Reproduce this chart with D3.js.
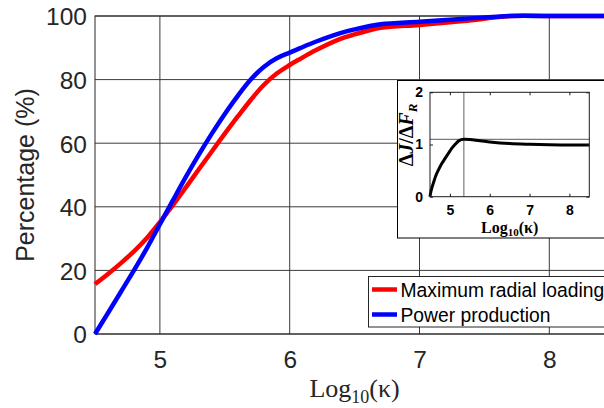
<!DOCTYPE html>
<html>
<head>
<meta charset="utf-8">
<script src="https://cdn.jsdelivr.net/npm/d3@7"></script>
<style>
  html, body { margin: 0; padding: 0; background: #fff; }
  svg { display: block; }
</style>
</head>
<body>
<svg id="chart" width="604" height="408"></svg>
<script>
// Log10(kappa) sample positions and the two percentage curves
const kappaRadial = [4.5, 4.6, 4.7, 4.8, 4.9, 5.0, 5.1, 5.2, 5.3, 5.4, 5.5, 5.6, 5.7, 5.8, 5.9, 6.0, 6.08, 6.2, 6.39, 6.5, 6.7, 7.0, 7.34, 7.7, 8.0, 8.5];
const radialLoading = [15.7, 18.9, 22.3, 26, 30.2, 35.2, 40.5, 46.1, 51.8, 57.4, 63, 68.4, 73.6, 78.3, 81.9, 84.6, 86.5, 89.2, 92.8, 94.2, 96.3, 97.2, 98.4, 100, 100, 100];

const kappaPower = [4.5, 4.6, 4.7, 4.8, 4.9, 5.0, 5.1, 5.2, 5.3, 5.4, 5.5, 5.6, 5.7, 5.8, 5.9, 6.0, 6.08, 6.2, 6.39, 6.5, 6.7, 7.0, 7.34, 7.7, 8.0, 8.5];
const powerProduction = [0, 6.6, 13.3, 20, 27, 34.5, 42, 49.4, 56.4, 63, 69.2, 74.9, 80, 84, 86.7, 88.5, 89.9, 91.9, 94.6, 95.8, 97.4, 98.2, 99.1, 100, 100, 100];

// Inset: ratio of changes against Log10(kappa)
const kappaRatio = [4.5, 4.52, 4.55, 4.584, 4.64, 4.71, 4.8, 4.88, 4.97, 5.05, 5.14, 5.22, 5.35, 5.5, 5.75, 6.0, 6.5, 7.0, 7.5, 8.0, 8.5];
const ratio = [0, 0.09, 0.18, 0.26, 0.39, 0.51, 0.64, 0.735, 0.84, 0.93, 1.01, 1.07, 1.1, 1.095, 1.07, 1.05, 1.02, 1.005, 0.995, 0.99, 0.99];
const ratioPeak = { k: 5.35, v: 1.1 };

const xTicks = [5, 6, 7, 8];
const yTicks = [0, 20, 40, 60, 80, 100];
const insetYTicks = [0, 1, 2];

const seriesNames = ["Maximum radial loading", "Power production"];
const seriesColors = ["#ff0000", "#0000ff"];

const svg = d3.select("#chart");
const axisColor = "#262626";
const sans = "'Liberation Sans', Arial, sans-serif";
const serif = "'Liberation Serif', 'Times New Roman', serif";

// ---------- main axes ----------
const x = d3.scaleLinear().domain([4.5, 8.5]).range([95, 614.2]);
const y = d3.scaleLinear().domain([0, 100]).range([334, 16]);

const grid = svg.append("g");
grid.selectAll("line.vg").data(xTicks).join("line")
  .attr("x1", d => x(d)).attr("x2", d => x(d))
  .attr("y1", y(0)).attr("y2", y(100))
  .attr("stroke", "#3a3a3a").attr("stroke-width", 1);
grid.selectAll("line.hg").data(yTicks).join("line")
  .attr("x1", x(4.5)).attr("x2", x(8.5))
  .attr("y1", d => y(d)).attr("y2", d => y(d))
  .attr("stroke", "#3a3a3a").attr("stroke-width", 1);

// box
svg.append("rect")
  .attr("x", x(4.5)).attr("y", y(100))
  .attr("width", x(8.5) - x(4.5)).attr("height", y(0) - y(100))
  .attr("fill", "none").attr("stroke", axisColor).attr("stroke-width", 1);

// axes (tick labels only, lines come from the grid/box)
const xAxis = d3.axisBottom(x).tickValues(xTicks).tickSize(0).tickPadding(0).tickFormat(d3.format("d"));
const gx = svg.append("g").attr("transform", `translate(0,${y(0)})`).call(xAxis);
gx.select(".domain").remove();
gx.selectAll("text")
  .attr("y", 34).attr("dy", null)
  .attr("font-family", sans).attr("font-size", 24.5).attr("fill", axisColor);

const yAxis = d3.axisLeft(y).tickValues(yTicks).tickSize(0).tickPadding(0).tickFormat(d3.format("d"));
const gy = svg.append("g").attr("transform", `translate(${x(4.5)},0)`).call(yAxis);
gy.select(".domain").remove();
gy.selectAll("text")
  .attr("x", -8).attr("dy", "0.36em")
  .attr("font-family", sans).attr("font-size", 24.5).attr("fill", axisColor);

// curves
const line = d3.line().x(d => x(d[0])).y(d => y(d[1])).curve(d3.curveCatmullRom.alpha(0.5));
svg.append("path")
  .datum(kappaRadial.map((k, i) => [k, radialLoading[i]]))
  .attr("d", line).attr("fill", "none")
  .attr("stroke", seriesColors[0]).attr("stroke-width", 4.5);
svg.append("path")
  .datum(kappaPower.map((k, i) => [k, powerProduction[i]]))
  .attr("d", line).attr("fill", "none")
  .attr("stroke", seriesColors[1]).attr("stroke-width", 4.5);

// axis titles
const xt = svg.append("text")
  .attr("x", (x(4.5) + x(8.5)) / 2).attr("y", 397)
  .attr("text-anchor", "middle")
  .attr("font-family", serif).attr("font-size", 26).attr("fill", axisColor);
xt.append("tspan").text("Log");
xt.append("tspan").attr("font-size", 18).attr("dy", 6).text("10");
xt.append("tspan").attr("dy", -6).text("(κ)");

svg.append("text")
  .attr("transform", `translate(34,${(y(0) + y(100)) / 2}) rotate(-90)`)
  .attr("text-anchor", "middle")
  .attr("font-family", sans).attr("font-size", 25).attr("fill", axisColor)
  .text("Percentage (%)");

// ---------- legend ----------
const legend = svg.append("g");
legend.append("rect")
  .attr("x", 368.5).attr("y", 276.5).attr("width", 250).attr("height", 50.5)
  .attr("fill", "#fff").attr("stroke", axisColor).attr("stroke-width", 1);
seriesNames.forEach((name, i) => {
  const ly = 289.5 + i * 25;
  legend.append("line")
    .attr("x1", 372).attr("x2", 397).attr("y1", ly).attr("y2", ly)
    .attr("stroke", seriesColors[i]).attr("stroke-width", 4.5);
  legend.append("text")
    .attr("x", 400.5).attr("y", ly + 7)
    .attr("font-family", sans).attr("font-size", 19.3).attr("fill", "#000")
    .text(name);
});

// ---------- inset ----------
const inset = svg.append("g");
inset.append("rect")
  .attr("x", 397.5).attr("y", 80.5).attr("width", 230).attr("height", 157.5)
  .attr("fill", "#fff").attr("stroke", "#000").attr("stroke-width", 1);

const xi = d3.scaleLinear().domain([4.5, 8.5]).range([430, 589.3]);
const yi = d3.scaleLinear().domain([0, 2]).range([196.7, 92.3]);

// reference lines through the peak
inset.append("line")
  .attr("x1", xi(ratioPeak.k)).attr("x2", xi(ratioPeak.k))
  .attr("y1", yi(0)).attr("y2", yi(2))
  .attr("stroke", "#7a7a7a").attr("stroke-width", 1.2);
inset.append("line")
  .attr("x1", xi(4.5)).attr("x2", xi(8.5))
  .attr("y1", yi(ratioPeak.v)).attr("y2", yi(ratioPeak.v))
  .attr("stroke", "#7a7a7a").attr("stroke-width", 1.2);

inset.append("path")
  .datum(kappaRatio.map((k, i) => [k, ratio[i]]))
  .attr("d", d3.line().x(d => xi(d[0])).y(d => yi(d[1])).curve(d3.curveMonotoneX))
  .attr("fill", "none").attr("stroke", "#000").attr("stroke-width", 3);

// inset box and inward ticks
inset.append("rect")
  .attr("x", xi(4.5)).attr("y", yi(2))
  .attr("width", xi(8.5) - xi(4.5)).attr("height", yi(0) - yi(2))
  .attr("fill", "none").attr("stroke", "#1a1a1a").attr("stroke-width", 1);
const ixAxisB = d3.axisBottom(xi).tickValues(xTicks).tickSizeInner(-3).tickSizeOuter(0).tickPadding(8).tickFormat(d3.format("d"));
const gix = inset.append("g").attr("transform", `translate(0,${yi(0)})`).call(ixAxisB);
gix.select(".domain").remove();
gix.selectAll("line").attr("stroke", "#1a1a1a");
gix.selectAll("text")
  .attr("font-family", sans).attr("font-weight", "bold").attr("font-size", 14).attr("fill", "#000");
const ixAxisT = d3.axisTop(xi).tickValues(xTicks).tickSizeInner(-3).tickSizeOuter(0).tickFormat("");
const gixt = inset.append("g").attr("transform", `translate(0,${yi(2)})`).call(ixAxisT);
gixt.select(".domain").remove();
gixt.selectAll("line").attr("stroke", "#1a1a1a");

const iyAxisL = d3.axisLeft(yi).tickValues(insetYTicks).tickSizeInner(-3).tickSizeOuter(0).tickPadding(7).tickFormat(d3.format("d"));
const giy = inset.append("g").attr("transform", `translate(${xi(4.5)},0)`).call(iyAxisL);
giy.select(".domain").remove();
giy.selectAll("line").attr("stroke", "#1a1a1a");
giy.selectAll("text")
  .attr("font-family", sans).attr("font-weight", "bold").attr("font-size", 14).attr("fill", "#000");
const iyAxisR = d3.axisRight(yi).tickValues(insetYTicks).tickSizeInner(-3).tickSizeOuter(0).tickFormat("");
const giyr = inset.append("g").attr("transform", `translate(${xi(8.5)},0)`).call(iyAxisR);
giyr.select(".domain").remove();
giyr.selectAll("line").attr("stroke", "#1a1a1a");

// inset titles
const ixt = inset.append("text")
  .attr("x", (xi(4.5) + xi(8.5)) / 2).attr("y", 233)
  .attr("text-anchor", "middle")
  .attr("font-family", serif).attr("font-weight", "bold").attr("font-size", 16).attr("fill", "#000");
ixt.append("tspan").text("Log");
ixt.append("tspan").attr("font-size", 11).attr("dy", 3).text("10");
ixt.append("tspan").attr("dy", -3).text("(κ)");

const iyt = inset.append("text")
  .attr("transform", `translate(413,135) rotate(-90)`)
  .attr("text-anchor", "middle")
  .attr("font-family", serif).attr("font-weight", "bold").attr("font-size", 20).attr("fill", "#000");
iyt.append("tspan").text("Δ");
iyt.append("tspan").attr("font-style", "italic").text("J");
iyt.append("tspan").text("/Δ");
iyt.append("tspan").attr("font-style", "italic").text("F");
iyt.append("tspan").attr("font-style", "italic").attr("font-size", 13).attr("dy", 4).text("R");
</script>
</body>
</html>
